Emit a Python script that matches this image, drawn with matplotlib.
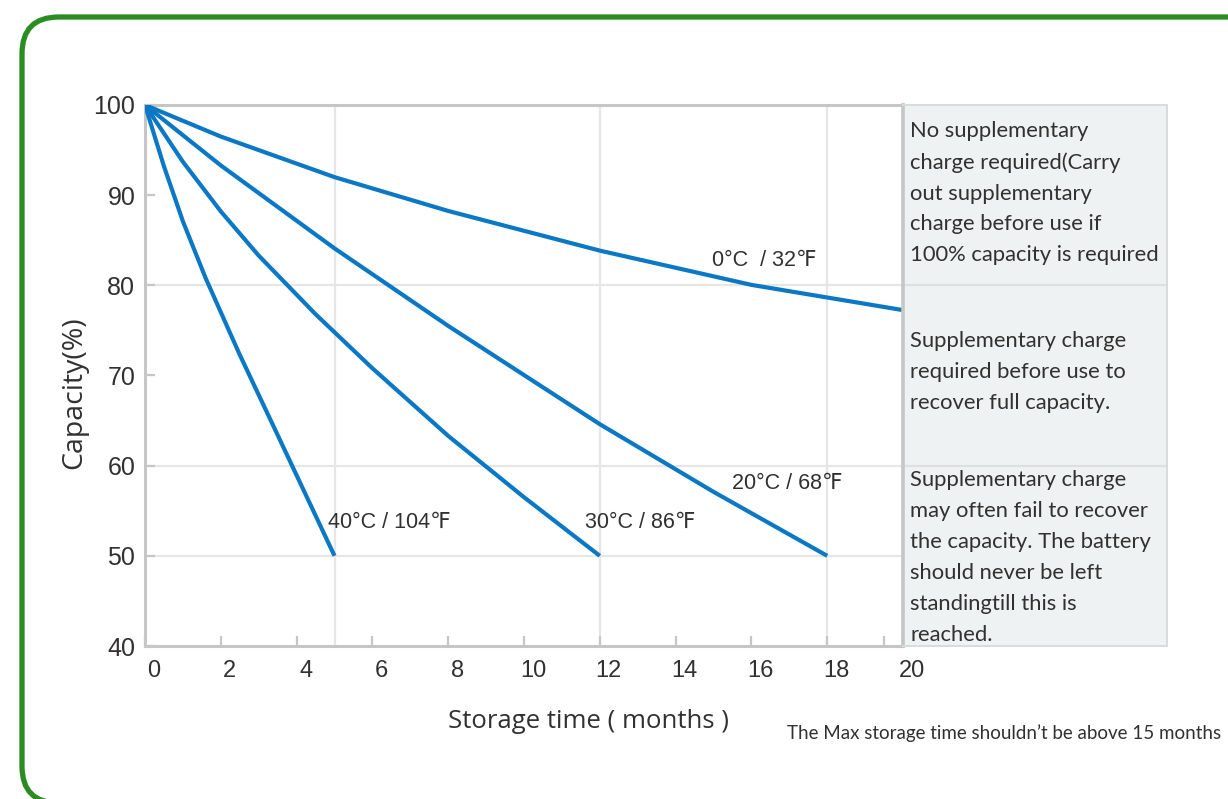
import matplotlib
matplotlib.use('Agg')
import matplotlib.pyplot as plt
from matplotlib import font_manager
from matplotlib.patches import FancyBboxPatch
from matplotlib.transforms import ScaledTranslation

# capacity curves (months, capacity %)
months_0c = [0, 2, 5, 8, 12, 16, 20]
cap_0c = [100, 96.5, 92.0, 88.25, 83.85, 80.05, 77.25]
months_20c = [0, 2, 5, 8, 12, 15, 18]
cap_20c = [100, 93.3, 84.1, 75.5, 64.6, 57.1, 50]
months_30c = [0, 1, 2, 3, 4.5, 6, 8, 10, 12]
cap_30c = [100, 93.7, 88.2, 83.3, 76.8, 70.8, 63.3, 56.5, 50]
months_40c = [0, 0.5, 1, 1.6, 2.5, 3.5, 5]
cap_40c = [100, 93.2, 87.1, 80.8, 72.3, 63.4, 50]

curve_labels = ['0°C  / 32℉', '20°C / 68℉', '30°C / 86℉', '40°C / 104℉']
label_pos = [(14.95, 82.8), (15.5, 58.0), (11.6, 53.7), (4.83, 53.7)]

zone_limits = [80, 60]     # panel dividers
grid_levels = [80, 60, 50]
x_ticks = list(range(0, 21, 2))
y_ticks = list(range(40, 101, 10))

zone_texts = [
    "No supplementary\ncharge required(Carry\nout supplementary\ncharge before use if\n100% capacity is required",
    "Supplementary charge\nrequired before use to\nrecover full capacity.",
    "Supplementary charge\nmay often fail to recover\nthe capacity. The battery\nshould never be left\nstandingtill this is\nreached.",
]
zone_tops = [98.25, 74.95, 59.5]

names = {f.name for f in font_manager.fontManager.ttflist}
narrow = 'Liberation Sans Narrow' if 'Liberation Sans Narrow' in names else 'Liberation Sans'
body = 'Lato'
label_font = 'Open Sans'

blue = '#0a78c4'
spine_gray = '#c6c6c6'
grid_gray = '#e6e6e6'
ink = '#333030'

fig = plt.figure(figsize=(12.28, 7.99), dpi=100)
W, H = 1228, 799

# green rounded frame, right edge runs off the picture
frame = FancyBboxPatch((22 / W, -4 / H), 1260 / W, 786 / H,
                       boxstyle='round,pad=0,rounding_size=0.03',
                       transform=fig.transFigure, fill=False,
                       edgecolor='#2b8c22', linewidth=3.8, mutation_aspect=W / H)
fig.patches.append(frame)

ax = fig.add_axes([145 / W, 1 - 646 / H, 758 / W, 541 / H])
ax.set_xlim(0, 20)
ax.set_ylim(40, 100)

for lvl in grid_levels:
    ax.axhline(lvl, color=grid_gray, lw=1.6, zorder=1)
for end_x in [months_40c[-1], months_30c[-1], months_20c[-1]]:
    ax.axvline(end_x, color=grid_gray, lw=1.6, zorder=1)

for xs, ys in [(months_0c, cap_0c), (months_20c, cap_20c),
               (months_30c, cap_30c), (months_40c, cap_40c)]:
    ax.plot(xs, ys, color=blue, lw=3.0, solid_capstyle='butt',
            solid_joinstyle='round', zorder=3)

for txt, (lx, ly) in zip(curve_labels, label_pos):
    ax.text(lx, ly, txt, fontsize=15.5, color=ink, va='center', ha='left',
            family=[narrow, 'DejaVu Sans'])

for side in ['left', 'bottom', 'top', 'right']:
    ax.spines[side].set_color(spine_gray)
    ax.spines[side].set_linewidth(2.2)

ax.set_xticks(x_ticks)
ax.set_yticks(y_ticks)
ax.set_xticks([19.5], minor=True)
ax.tick_params(axis='both', direction='in', color=spine_gray, width=1.6,
               length=7, labelcolor=ink)
ax.tick_params(axis='x', which='minor', direction='in', color=spine_gray,
               width=1.6, length=7)
ax.tick_params(axis='x', pad=10, labelsize=17)
ax.tick_params(axis='y', pad=7, labelsize=18)
for lab in ax.get_xticklabels() + ax.get_yticklabels():
    lab.set_family(narrow)
offset = ScaledTranslation(0.09, 0, fig.dpi_scale_trans)
for lab in ax.get_xticklabels():
    lab.set_transform(lab.get_transform() + offset)

fig.text(74 / W, 1 - 393 / H, 'Capacity(%)', rotation=90, ha='center', va='center',
         fontsize=20.5, color=ink, family=label_font)
fig.text(589 / W, 1 - 722 / H, 'Storage time ( months )', ha='center', va='center',
         fontsize=18.5, color=ink, family=label_font)
fig.text(1004 / W, 1 - 733 / H, "The Max storage time shouldn’t be above 15 months",
         ha='center', va='center', fontsize=13.5, color=ink, family=body)

# note panel on the right
pax = fig.add_axes([903 / W, 1 - 646 / H, 264 / W, 541 / H])
pax.set_xlim(0, 1)
pax.set_ylim(40, 100)
pax.set_facecolor('#eef2f3')
pax.set_xticks([])
pax.set_yticks([])
for side in ['left', 'bottom', 'top', 'right']:
    pax.spines[side].set_color('#d8dcdc')
    pax.spines[side].set_linewidth(1.4)
pax.spines['left'].set_color(spine_gray)
pax.spines['left'].set_linewidth(2.6)
for lvl in zone_limits:
    pax.axhline(lvl, color='#dde0e0', lw=1.6)
for txt, top in zip(zone_texts, zone_tops):
    pax.text(0.027, top, txt, ha='left', va='top', fontsize=15.8, color=ink,
             family=body, linespacing=1.68)

fig.savefig('out.png', dpi=100)
